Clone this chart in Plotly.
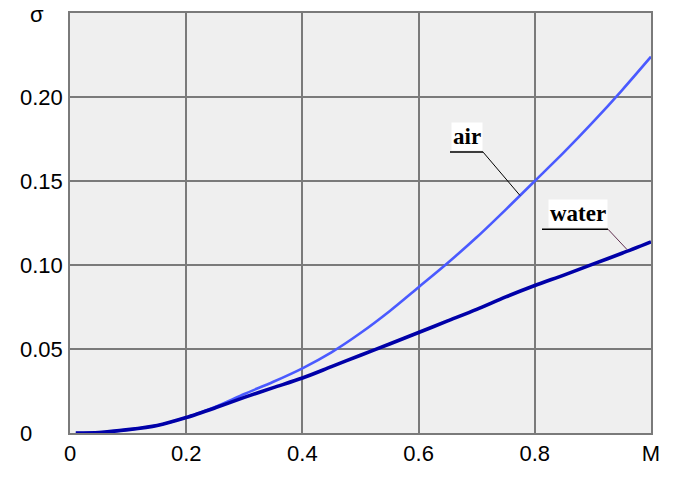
import plotly.graph_objects as go

# ---- data ----
mach = [0.01, 0.05, 0.1, 0.15, 0.2, 0.25, 0.3, 0.35, 0.4, 0.45, 0.5, 0.55,
        0.6, 0.65, 0.7, 0.75, 0.8, 0.85, 0.9, 0.95, 1.0]
sigma_air = [0.0, 0.0003, 0.002, 0.0045, 0.0093, 0.0155, 0.0232, 0.0305,
             0.0385, 0.048, 0.0595, 0.0725, 0.0868, 0.1012, 0.1165, 0.133,
             0.150, 0.167, 0.185, 0.204, 0.224]
sigma_water = [0.0, 0.0003, 0.002, 0.0045, 0.0092, 0.015, 0.0212, 0.027,
               0.0327, 0.0395, 0.0463, 0.053, 0.0598, 0.0667, 0.0736, 0.081,
               0.0878, 0.094, 0.1005, 0.107, 0.1138]

x_tickvals = [0, 0.2, 0.4, 0.6, 0.8, 1.0]
x_ticktext = ["0", "0.2", "0.4", "0.6", "0.8", "M"]
y_tickvals = [0, 0.05, 0.10, 0.15, 0.20]
y_ticktext = ["0", "0.05", "0.10", "0.15", "0.20"]
y_axis_title = "σ"

series_names = ["air", "water"]
label_x = [0.6833, 0.8744]
leader_from = [(0.711, 0.1672), (0.926, 0.1213)]
leader_to = [(0.7745, 0.1414), (0.9587, 0.1092)]
underline_x0 = [0.654, 0.8124]

AIR_COLOR = "#4a5aff"
WATER_COLOR = "#0000a8"
GRID = "#7a7a7a"

fig = go.Figure()
fig.add_trace(go.Scatter(x=mach, y=sigma_air, mode="lines",
                         line=dict(color=AIR_COLOR, width=2.6, shape="spline", smoothing=0.8),
                         name="air"))
fig.add_trace(go.Scatter(x=mach, y=sigma_water, mode="lines",
                         line=dict(color=WATER_COLOR, width=3.6, shape="spline", smoothing=0.8),
                         name="water"))

annotations = []
shapes = []
leader_colors = ["#000000", "#603050"]
gap = 0.25 / 435 * 1.5
for name, lx, (fx, fy), (tx, ty), ux0, lc in zip(
        series_names, label_x, leader_from, leader_to, underline_x0, leader_colors):
    annotations.append(dict(x=lx, y=fy + gap, xref="x", yref="y", text="<b>%s</b>" % name,
                            showarrow=False, bgcolor="white", borderpad=1,
                            yanchor="bottom",
                            font=dict(family="Liberation Serif", size=23, color="black")))
    shapes.append(dict(type="line", xref="x", yref="y", x0=ux0, y0=fy, x1=fx, y1=fy,
                       line=dict(color="black", width=1.5)))
    shapes.append(dict(type="line", xref="x", yref="y", x0=fx, y0=fy, x1=tx, y1=ty,
                       line=dict(color=lc, width=1)))

tick_font = dict(family="Liberation Sans", size=22, color="black")
for v, t in zip(y_tickvals, y_ticktext):
    annotations.append(dict(x=-0.0895, y=v, xref="paper", yref="y", text=t,
                            showarrow=False, xanchor="left", yanchor="middle",
                            font=tick_font))
annotations.append(dict(x=-0.0568, y=0.9954, xref="paper", yref="paper",
                        text=y_axis_title, showarrow=False, xanchor="center",
                        yanchor="middle", font=tick_font))

fig.update_layout(
    width=683, height=477,
    margin=dict(l=70, r=32, t=11, b=31),
    paper_bgcolor="white", plot_bgcolor="#efefef",
    showlegend=False,
    annotations=annotations, shapes=shapes,
    xaxis=dict(range=[0, 1], tickvals=x_tickvals, ticktext=x_ticktext,
               showgrid=True, gridcolor=GRID, gridwidth=2, zeroline=False,
               showline=True, linecolor=GRID, linewidth=2, mirror=True,
               ticks="", tickfont=tick_font),
    yaxis=dict(range=[0, 0.25], tickvals=y_tickvals + [0.25],
               showgrid=True, gridcolor=GRID, gridwidth=2, zeroline=False,
               showline=True, linecolor=GRID, linewidth=2, mirror=True,
               ticks="", showticklabels=False),
)

fig.write_html("out.html")
